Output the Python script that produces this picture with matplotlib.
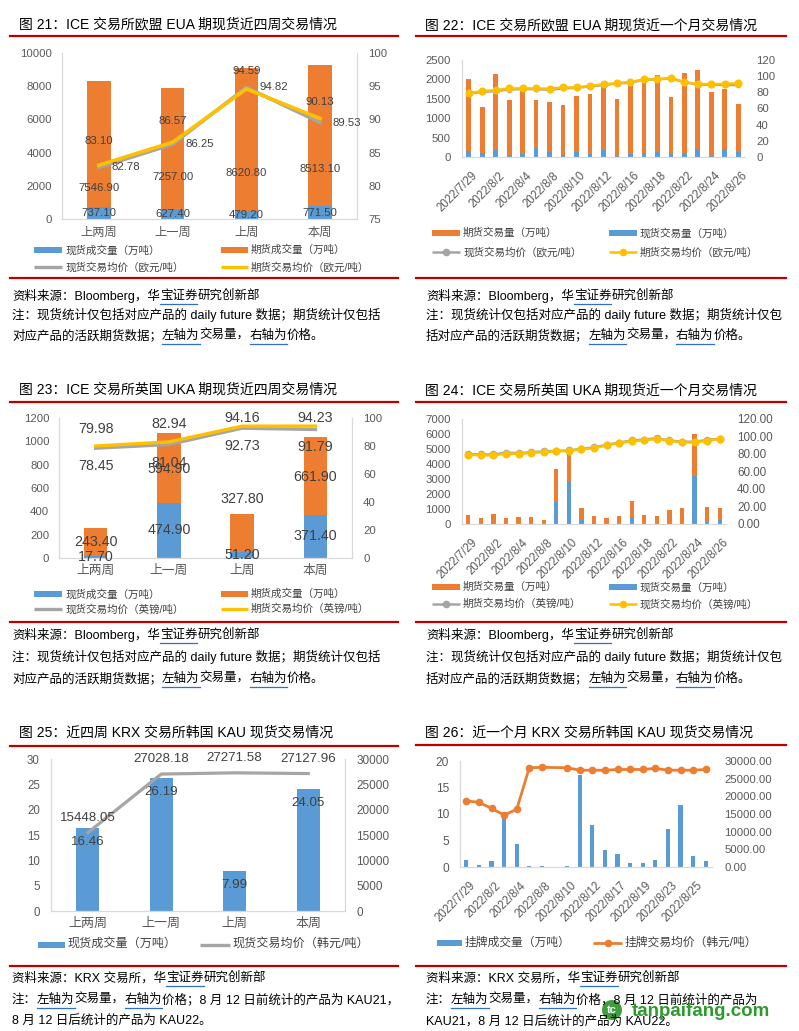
import numpy as np
import matplotlib
matplotlib.use('Agg')
import matplotlib.pyplot as plt
import matplotlib.transforms as mtransforms
from matplotlib.patches import Rectangle, Circle

plt.rcParams['font.family'] = ['Liberation Sans', 'Noto Sans CJK SC']

# ---------------- data ----------------
weeks = ['上两周', '上一周', '上周', '本周']

# 图21 EUA 近四周
eua_w_spot_vol = [737.10, 627.40, 479.20, 771.50]
eua_w_fut_vol = [7546.90, 7257.00, 8620.80, 8513.10]
eua_w_spot_px = [82.78, 86.25, 94.82, 89.53]
eua_w_fut_px = [83.10, 86.57, 94.59, 90.13]

# 图22 EUA 近一个月
days_ice = ['2022/7/29', '2022/8/1', '2022/8/2', '2022/8/3', '2022/8/4', '2022/8/5',
            '2022/8/8', '2022/8/9', '2022/8/10', '2022/8/11', '2022/8/12', '2022/8/15',
            '2022/8/16', '2022/8/17', '2022/8/18', '2022/8/19', '2022/8/22', '2022/8/23',
            '2022/8/24', '2022/8/25', '2022/8/26']
eua_d_spot_vol = [150, 100, 180, 50, 80, 230, 130, 50, 130, 80, 180,
                  30, 80, 100, 130, 80, 100, 200, 30, 200, 130]
eua_d_fut_vol = [1870, 1200, 1970, 1430, 1670, 1250, 1300, 1300, 1450, 1550, 1620,
                 1470, 1840, 1880, 1990, 1470, 2070, 2030, 1650, 1560, 1240]
eua_d_spot_px = [78.5, 80.5, 81.5, 83.5, 84, 84, 83, 85, 85.5, 87.5, 89,
                 91, 92, 95.5, 96, 97.5, 92.5, 89.5, 89.5, 89, 89]
eua_d_fut_px = [79, 81.5, 82.7, 84.8, 84.8, 84.8, 84.4, 86, 86, 88, 89.8,
                91.4, 92.7, 96, 96, 98, 92.7, 90.2, 90.2, 90.2, 91.4]

# 图23 UKA 近四周
uka_w_spot_vol = [17.70, 474.90, 51.20, 371.40]
uka_w_fut_vol = [243.40, 594.90, 327.80, 661.90]
uka_w_spot_px = [78.45, 81.04, 92.73, 91.79]
uka_w_fut_px = [79.98, 82.94, 94.16, 94.23]

# 图24 UKA 近一个月
uka_d_spot_vol = [90, 20, 60, 10, 0, 0, 0, 1490, 2880, 290, 60,
                  0, 0, 470, 0, 0, 0, 0, 3230, 150, 290]
uka_d_fut_vol = [510, 380, 610, 390, 470, 470, 270, 2190, 2170, 780, 475,
                 400, 535, 1070, 600, 535, 936, 1070, 2790, 990, 780]
uka_d_fut_px = [80, 79.5, 79.5, 81.5, 81, 82, 83, 83.5, 84, 86, 87.5,
                90.5, 93, 95.5, 96.5, 98, 95.5, 94, 94, 96, 97.5]
uka_d_spot_px = [79.1, 78.7, 78.7, 80.2, 80.2, 81.4, 82.1, 82.9, 83.7, 85.6, 86.7,
                 89.8, 92.5, 94.8, 95.5, 97.4, 95.1, 93.2, 93.2, 95.1, 97.1]

# 图25 KAU 近四周
kau_w_vol = [16.46, 26.19, 7.99, 24.05]
kau_w_px = [15448.05, 27028.18, 27271.58, 27127.96]

# 图26 KAU 近一个月
days_krx = ['2022/7/29', '2022/8/1', '2022/8/2', '2022/8/3', '2022/8/4', '2022/8/5',
            '2022/8/8', '2022/8/9', '2022/8/10', '2022/8/11', '2022/8/12', '2022/8/16',
            '2022/8/17', '2022/8/18', '2022/8/19', '2022/8/22', '2022/8/23', '2022/8/24',
            '2022/8/25', '2022/8/26']
kau_d_vol = [1.4, 0.4, 1.2, 9.8, 4.4, 0.2, 0.2, np.nan, 0.2, 17.4,
             7.9, 3.2, 2.5, 0.8, 0.8, 1.3, 7.2, 11.7, 2.1, 1.1]
kau_d_px = [18700, 18300, 16600, 14700, 16300, 28100, 28200, np.nan, 28100, 27400,
            27400, 27400, 27600, 27600, 27600, 27900, 27400, 27400, 27400, 27600]

# label placement (layout only)
eua_fut_label_y = [1850, 2550, 2750, 3010]
eua_fut_px_dy = [24, 21, 18, 17]
uka_fut_label_y = [137, 763, 506, 694]
uka_fut_px_dy = [17, 18, 8, 8]

BLUE = '#5B9BD5'
ORANGE = '#ED7D31'
GRAY = '#A5A5A5'
YELLOW = '#FFC000'
RED = '#C00000'
TXT = '#404040'
TICK = '#595959'
SPINE = '#D9D9D9'

W, H = 799, 1031
fig = plt.figure(figsize=(W / 100, H / 100), dpi=100)
bg = fig.add_axes([0, 0, 1, 1])
bg.set_xlim(0, W)
bg.set_ylim(H, 0)
bg.axis('off')
renderer = fig.canvas.get_renderer()


def px_rect(x0, y0, x1, y1):
    return [x0 / W, 1 - y1 / H, (x1 - x0) / W, (y1 - y0) / H]


def pt(px):
    return px * 0.72


def make_axes(box, right_spine, lsize, rsize, lpad=7, rpad=8):
    ax = fig.add_axes(px_rect(*box))
    ax2 = ax.twinx()
    for s in ax2.spines.values():
        s.set_visible(False)
    ax.spines['top'].set_visible(False)
    ax.spines['right'].set_visible(right_spine)
    for s in ['left', 'bottom', 'right']:
        ax.spines[s].set_color(SPINE)
        ax.spines[s].set_linewidth(0.9)
    ax.tick_params(axis='y', length=0, labelsize=lsize, labelcolor=TICK, pad=lpad)
    ax2.tick_params(axis='y', length=0, labelsize=rsize, labelcolor=TICK, pad=rpad)
    ax.tick_params(axis='x', length=0, labelcolor=TICK)
    return ax, ax2


def date_labels(ax, labels, step, size):
    ax.set_xticks(np.arange(0, len(labels), step))
    ax.set_xticklabels(labels[::step], rotation=45, ha='right', va='top',
                       rotation_mode='anchor', fontsize=size, color=TICK)
    ax.tick_params(axis='x', pad=9)
    off = mtransforms.ScaledTranslation(0.03, 0, fig.dpi_scale_trans)
    for lab in ax.get_xticklabels():
        lab.set_transform(lab.get_transform() + off)


def leg_patch(x0, x1, y, color, text, size):
    bg.add_patch(Rectangle((x0, y - 3), x1 - x0, 6, color=color, lw=0))
    bg.text(x1 + 3, y, text, va='center', ha='left', fontsize=size, color=TXT)


def leg_line(x0, x1, y, color, text, size, marker=False, lw=2.4):
    bg.plot([x0, x1], [y, y], color=color, lw=lw, solid_capstyle='butt')
    if marker:
        bg.plot([(x0 + x1) / 2], [y], 'o', color=color, ms=4.5)
    bg.text(x1 + 3, y, text, va='center', ha='left', fontsize=size, color=TXT)


def rich_line(x, y, segs, size=9):
    for s, ul in segs:
        t = bg.text(x, y, s, fontsize=size, va='center', ha='left', color='black')
        w = t.get_window_extent(renderer).width
        if ul:
            bg.plot([x, x + w], [y + 8, y + 8], color='#2F6FD0', lw=0.9)
        x += w


def header(x, y, text, x0, x1, yline):
    bg.text(x, y, text, fontsize=10, va='center', ha='left', color='black')
    bg.plot([x0, x1], [yline, yline], color=RED, lw=1.6)


# ---------------- 图21 ----------------
header(19, 24, '图 21：ICE 交易所欧盟 EUA 期现货近四周交易情况', 10, 398, 36)
ax, ax2 = make_axes((62, 53, 357, 219), True, 8.2, 8.2)
x = np.arange(4)
ax.bar(x, eua_w_spot_vol, width=0.32, color=BLUE)
ax.bar(x, eua_w_fut_vol, bottom=eua_w_spot_vol, width=0.32, color=ORANGE)
ax.set_xlim(-0.5, 3.5)
ax.set_ylim(0, 10000)
ax.set_yticks(np.arange(0, 10001, 2000))
ax.set_xticks(x)
ax.set_xticklabels(weeks, fontsize=8.8, color=TICK)
ax.tick_params(axis='x', pad=6)
ax2.plot(x, eua_w_spot_px, color=GRAY, lw=2.6)
ax2.plot(x, eua_w_fut_px, color=YELLOW, lw=2.6)
ax2.set_ylim(75, 100)
ax2.set_yticks(np.arange(75, 101, 5))
for i in range(4):
    ax.text(i, eua_w_spot_vol[i] / 2, f'{eua_w_spot_vol[i]:.2f}', ha='center', va='center',
            fontsize=8.2, color=TXT)
    ax.text(i, eua_fut_label_y[i], f'{eua_w_fut_vol[i]:.2f}', ha='center', va='center',
            fontsize=8.2, color=TXT)
    ax2.annotate(f'{eua_w_fut_px[i]:.2f}', (i, eua_w_fut_px[i]), xytext=(0, pt(eua_fut_px_dy[i])),
                 textcoords='offset points', ha='center', va='center', fontsize=8.2, color=TXT)
    ax2.annotate(f'{eua_w_spot_px[i]:.2f}', (i, eua_w_spot_px[i]), xytext=(pt(27), 0),
                 textcoords='offset points', ha='center', va='center', fontsize=8.2, color=TXT)
leg_patch(34, 62, 250, BLUE, '现货成交量（万吨）', 7.6)
leg_patch(221, 248, 250, ORANGE, '期货成交量（万吨）', 7.6)
leg_line(34, 62, 267, GRAY, '现货交易均价（欧元/吨）', 7.6)
leg_line(221, 248, 267, YELLOW, '期货交易均价（欧元/吨）', 7.6)
bg.plot([10, 398], [278, 278], color=RED, lw=1.6)

# ---------------- 图22 ----------------
header(425, 25, '图 22：ICE 交易所欧盟 EUA 期现货近一个月交易情况', 416, 786, 36)
ax, ax2 = make_axes((462, 60, 745, 157), False, 8.2, 8.2, lpad=8, rpad=8)
x = np.arange(len(days_ice))
ax.bar(x, eua_d_spot_vol, width=0.35, color=BLUE)
ax.bar(x, eua_d_fut_vol, bottom=eua_d_spot_vol, width=0.35, color=ORANGE)
ax.set_xlim(-0.5, len(days_ice) - 0.5)
ax.set_ylim(0, 2500)
ax.set_yticks(np.arange(0, 2501, 500))
date_labels(ax, days_ice, 2, 8.3)
ax2.plot(x, eua_d_spot_px, color=GRAY, lw=1.8, marker='o', ms=3)
ax2.plot(x, eua_d_fut_px, color=YELLOW, lw=1.8, marker='o', ms=4.8)
ax2.set_ylim(0, 120)
ax2.set_yticks(np.arange(0, 121, 20))
leg_patch(432, 460, 233, ORANGE, '期货交易量（万吨）', 7.6)
leg_patch(609, 637, 233, BLUE, '现货交易量（万吨）', 7.6)
leg_line(432, 460, 252, GRAY, '现货交易均价（欧元/吨）', 7.6, marker=True, lw=1.8)
leg_line(609, 637, 252, YELLOW, '期货交易均价（欧元/吨）', 7.6, marker=True, lw=1.8)
bg.plot([416, 786], [278, 278], color=RED, lw=1.6)

# footers top
for x0, l2, l3a in [(12, '注：现货统计仅包括对应产品的 daily future 数据；期货统计仅包括', '对应产品的活跃期货数据；'),
                    (426, '注：现货统计仅包括对应产品的 daily future 数据；期货统计仅包', '括对应产品的活跃期货数据；')]:
    rich_line(x0, 296, [('资料来源：Bloomberg，华', False), ('宝证券', True), ('研究创新部', False)])
    rich_line(x0, 315, [(l2, False)])
    rich_line(x0, 336, [(l3a, False), ('左轴为', True), ('交易量，', False), ('右轴为', True), ('价格。', False)])

# ---------------- 图23 ----------------
header(19, 390, '图 23：ICE 交易所英国 UKA 期现货近四周交易情况', 10, 398, 402)
ax, ax2 = make_axes((59, 418, 352, 558), True, 8.2, 8.2)
x = np.arange(4)
ax.bar(x, uka_w_spot_vol, width=0.32, color=BLUE)
ax.bar(x, uka_w_fut_vol, bottom=uka_w_spot_vol, width=0.32, color=ORANGE)
ax.set_xlim(-0.5, 3.5)
ax.set_ylim(0, 1200)
ax.set_yticks(np.arange(0, 1201, 200))
ax.set_xticks(x)
ax.set_xticklabels(weeks, fontsize=9.2, color=TICK)
ax.tick_params(axis='x', pad=5)
ax2.plot(x, uka_w_spot_px, color=GRAY, lw=2.4)
ax2.plot(x, uka_w_fut_px, color=YELLOW, lw=2.4)
ax2.set_ylim(0, 100)
ax2.set_yticks(np.arange(0, 101, 20))
for i in range(4):
    ax.text(i, uka_w_spot_vol[i] / 2, f'{uka_w_spot_vol[i]:.2f}', ha='center', va='center',
            fontsize=10.3, color=TXT)
    ax.text(i, uka_fut_label_y[i], f'{uka_w_fut_vol[i]:.2f}', ha='center', va='center',
            fontsize=10.3, color=TXT)
    ax2.annotate(f'{uka_w_fut_px[i]:.2f}', (i, uka_w_fut_px[i]), xytext=(0, pt(uka_fut_px_dy[i])),
                 textcoords='offset points', ha='center', va='center', fontsize=10.3, color=TXT)
    ax2.annotate(f'{uka_w_spot_px[i]:.2f}', (i, uka_w_spot_px[i]), xytext=(0, -pt(18)),
                 textcoords='offset points', ha='center', va='center', fontsize=10.3, color=TXT)
leg_patch(34, 62, 594, BLUE, '现货成交量（万吨）', 7.6)
leg_patch(221, 248, 594, ORANGE, '期货成交量（万吨）', 7.6)
leg_line(34, 62, 609, GRAY, '现货交易均价（英镑/吨）', 7.6)
leg_line(221, 248, 609, YELLOW, '期货交易均价（英镑/吨）', 7.6)
bg.plot([10, 398], [622, 622], color=RED, lw=1.6)

# ---------------- 图24 ----------------
header(425, 391, '图 24：ICE 交易所英国 UKA 期现货近一个月交易情况', 416, 786, 402)
ax, ax2 = make_axes((462, 419, 726, 524), False, 8.2, 8.4, lpad=8, rpad=8)
x = np.arange(len(days_ice))
ax.bar(x, uka_d_spot_vol, width=0.33, color=BLUE)
ax.bar(x, uka_d_fut_vol, bottom=uka_d_spot_vol, width=0.33, color=ORANGE)
ax.set_xlim(-0.5, len(days_ice) - 0.5)
ax.set_ylim(0, 7000)
ax.set_yticks(np.arange(0, 7001, 1000))
date_labels(ax, days_ice, 2, 8.3)
ax2.plot(x, uka_d_fut_px, color=GRAY, lw=1.8, marker='o', ms=4.5)
ax2.plot(x, uka_d_spot_px, color=YELLOW, lw=1.8, marker='o', ms=4.8)
ax2.set_ylim(0, 120)
ax2.set_yticks(np.arange(0, 121, 20))
ax2.set_yticklabels([f'{v:.2f}' for v in np.arange(0, 121, 20)])
leg_patch(432, 460, 587, ORANGE, '期货交易量（万吨）', 7.6)
leg_patch(609, 637, 587, BLUE, '现货交易量（万吨）', 7.6)
leg_line(432, 460, 604, GRAY, '期货交易均价（英镑/吨）', 7.6, marker=True, lw=1.8)
leg_line(609, 637, 604, YELLOW, '现货交易均价（英镑/吨）', 7.6, marker=True, lw=1.8)
bg.plot([416, 786], [622, 622], color=RED, lw=1.6)

# footers middle
for x0, l2, l3a in [(12, '注：现货统计仅包括对应产品的 daily future 数据；期货统计仅包括', '对应产品的活跃期货数据；'),
                    (426, '注：现货统计仅包括对应产品的 daily future 数据；期货统计仅包', '括对应产品的活跃期货数据；')]:
    rich_line(x0, 635, [('资料来源：Bloomberg，华', False), ('宝证券', True), ('研究创新部', False)])
    rich_line(x0, 657, [(l2, False)])
    rich_line(x0, 679, [(l3a, False), ('左轴为', True), ('交易量，', False), ('右轴为', True), ('价格。', False)])

# ---------------- 图25 ----------------
header(19, 733, '图 25：近四周 KRX 交易所韩国 KAU 现货交易情况', 10, 398, 746)
ax, ax2 = make_axes((51, 759, 345, 911), True, 8.3, 8.5, lpad=8, rpad=8)
x = np.arange(4)
ax.bar(x, kau_w_vol, width=0.31, color=BLUE)
ax.set_xlim(-0.5, 3.5)
ax.set_ylim(0, 30)
ax.set_yticks(np.arange(0, 31, 5))
ax.set_xticks(x)
ax.set_xticklabels(weeks, fontsize=9.4, color=TICK)
ax.tick_params(axis='x', pad=5)
ax2.plot(x, kau_w_px, color=GRAY, lw=2.3)
ax2.set_ylim(0, 30000)
ax2.set_yticks(np.arange(0, 30001, 5000))
for i in range(4):
    ax.annotate(f'{kau_w_vol[i]:.2f}', (i, kau_w_vol[i]), xytext=(0, -pt(14)),
                textcoords='offset points', ha='center', va='center', fontsize=9.6, color=TXT)
    ax2.annotate(f'{kau_w_px[i]:.2f}', (i, kau_w_px[i]), xytext=(0, pt(15)),
                 textcoords='offset points', ha='center', va='center', fontsize=9.6, color=TXT)
ax2.texts[2].set_y(ax2.texts[2].get_position()[1])
leg_patch(38, 65, 945, BLUE, '现货成交量（万吨）', 8.7)
leg_line(200, 230, 945, GRAY, '现货交易均价（韩元/吨）', 8.7)
bg.plot([10, 398], [966, 966], color=RED, lw=1.6)

# ---------------- 图26 ----------------
header(425, 733, '图 26：近一个月 KRX 交易所韩国 KAU 现货交易情况', 416, 786, 745)
ax, ax2 = make_axes((460, 761, 712, 867), False, 8.6, 8.2, lpad=8, rpad=9)
x = np.arange(len(days_krx))
vol = np.array(kau_d_vol)
ax.bar(x, np.nan_to_num(vol), width=0.32, color=BLUE)
ax.set_xlim(-0.5, len(days_krx) - 0.5)
ax.set_ylim(0, 20)
ax.set_yticks(np.arange(0, 21, 5))
date_labels(ax, days_krx, 2, 8.3)
px = np.array(kau_d_px)
ok = ~np.isnan(px)
ax2.plot(x[ok], px[ok], color=ORANGE, lw=2.0, marker='o', ms=4.5)
ax2.set_ylim(0, 30000)
ax2.set_yticks(np.arange(0, 30001, 5000))
ax2.set_yticklabels([f'{v:.2f}' for v in np.arange(0, 30001, 5000)])
leg_patch(437, 462, 943, BLUE, '挂牌成交量（万吨）', 8.5)
leg_line(593, 622, 943, ORANGE, '挂牌交易均价（韩元/吨）', 8.5, marker=True, lw=2.0)
bg.plot([416, 786], [966, 966], color=RED, lw=1.6)

# footers bottom
rich_line(12, 978, [('资料来源：KRX 交易所，华', False), ('宝证券', True), ('研究创新部', False)])
rich_line(12, 1000, [('注：', False), ('左轴为', True), ('交易量，', False), ('右轴为', True),
                     ('价格；8 月 12 日前统计的产品为 KAU21，', False)])
rich_line(12, 1021, [('8 月 12 日后统计的产品为 KAU22。', False)])
rich_line(426, 978, [('资料来源：KRX 交易所，华', False), ('宝证券', True), ('研究创新部', False)])
rich_line(426, 1000, [('注：', False), ('左轴为', True), ('交易量，', False), ('右轴为', True),
                      ('价格，8 月 12 日前统计的产品为', False)])
rich_line(426, 1021, [('KAU21，8 月 12 日后统计的产品为 KAU22。', False)])

# watermark
bg.add_patch(Circle((612, 1010), 10, color='#3E9E3E', lw=0))
bg.text(612, 1010, 'tc', fontsize=8, fontweight='bold', color='white', ha='center', va='center')
bg.text(632, 1012, 'tanpaifang.com', fontsize=13.5, fontweight='bold', color='#2E9A2E',
        ha='left', va='center')

fig.savefig('out.png', dpi=100)
